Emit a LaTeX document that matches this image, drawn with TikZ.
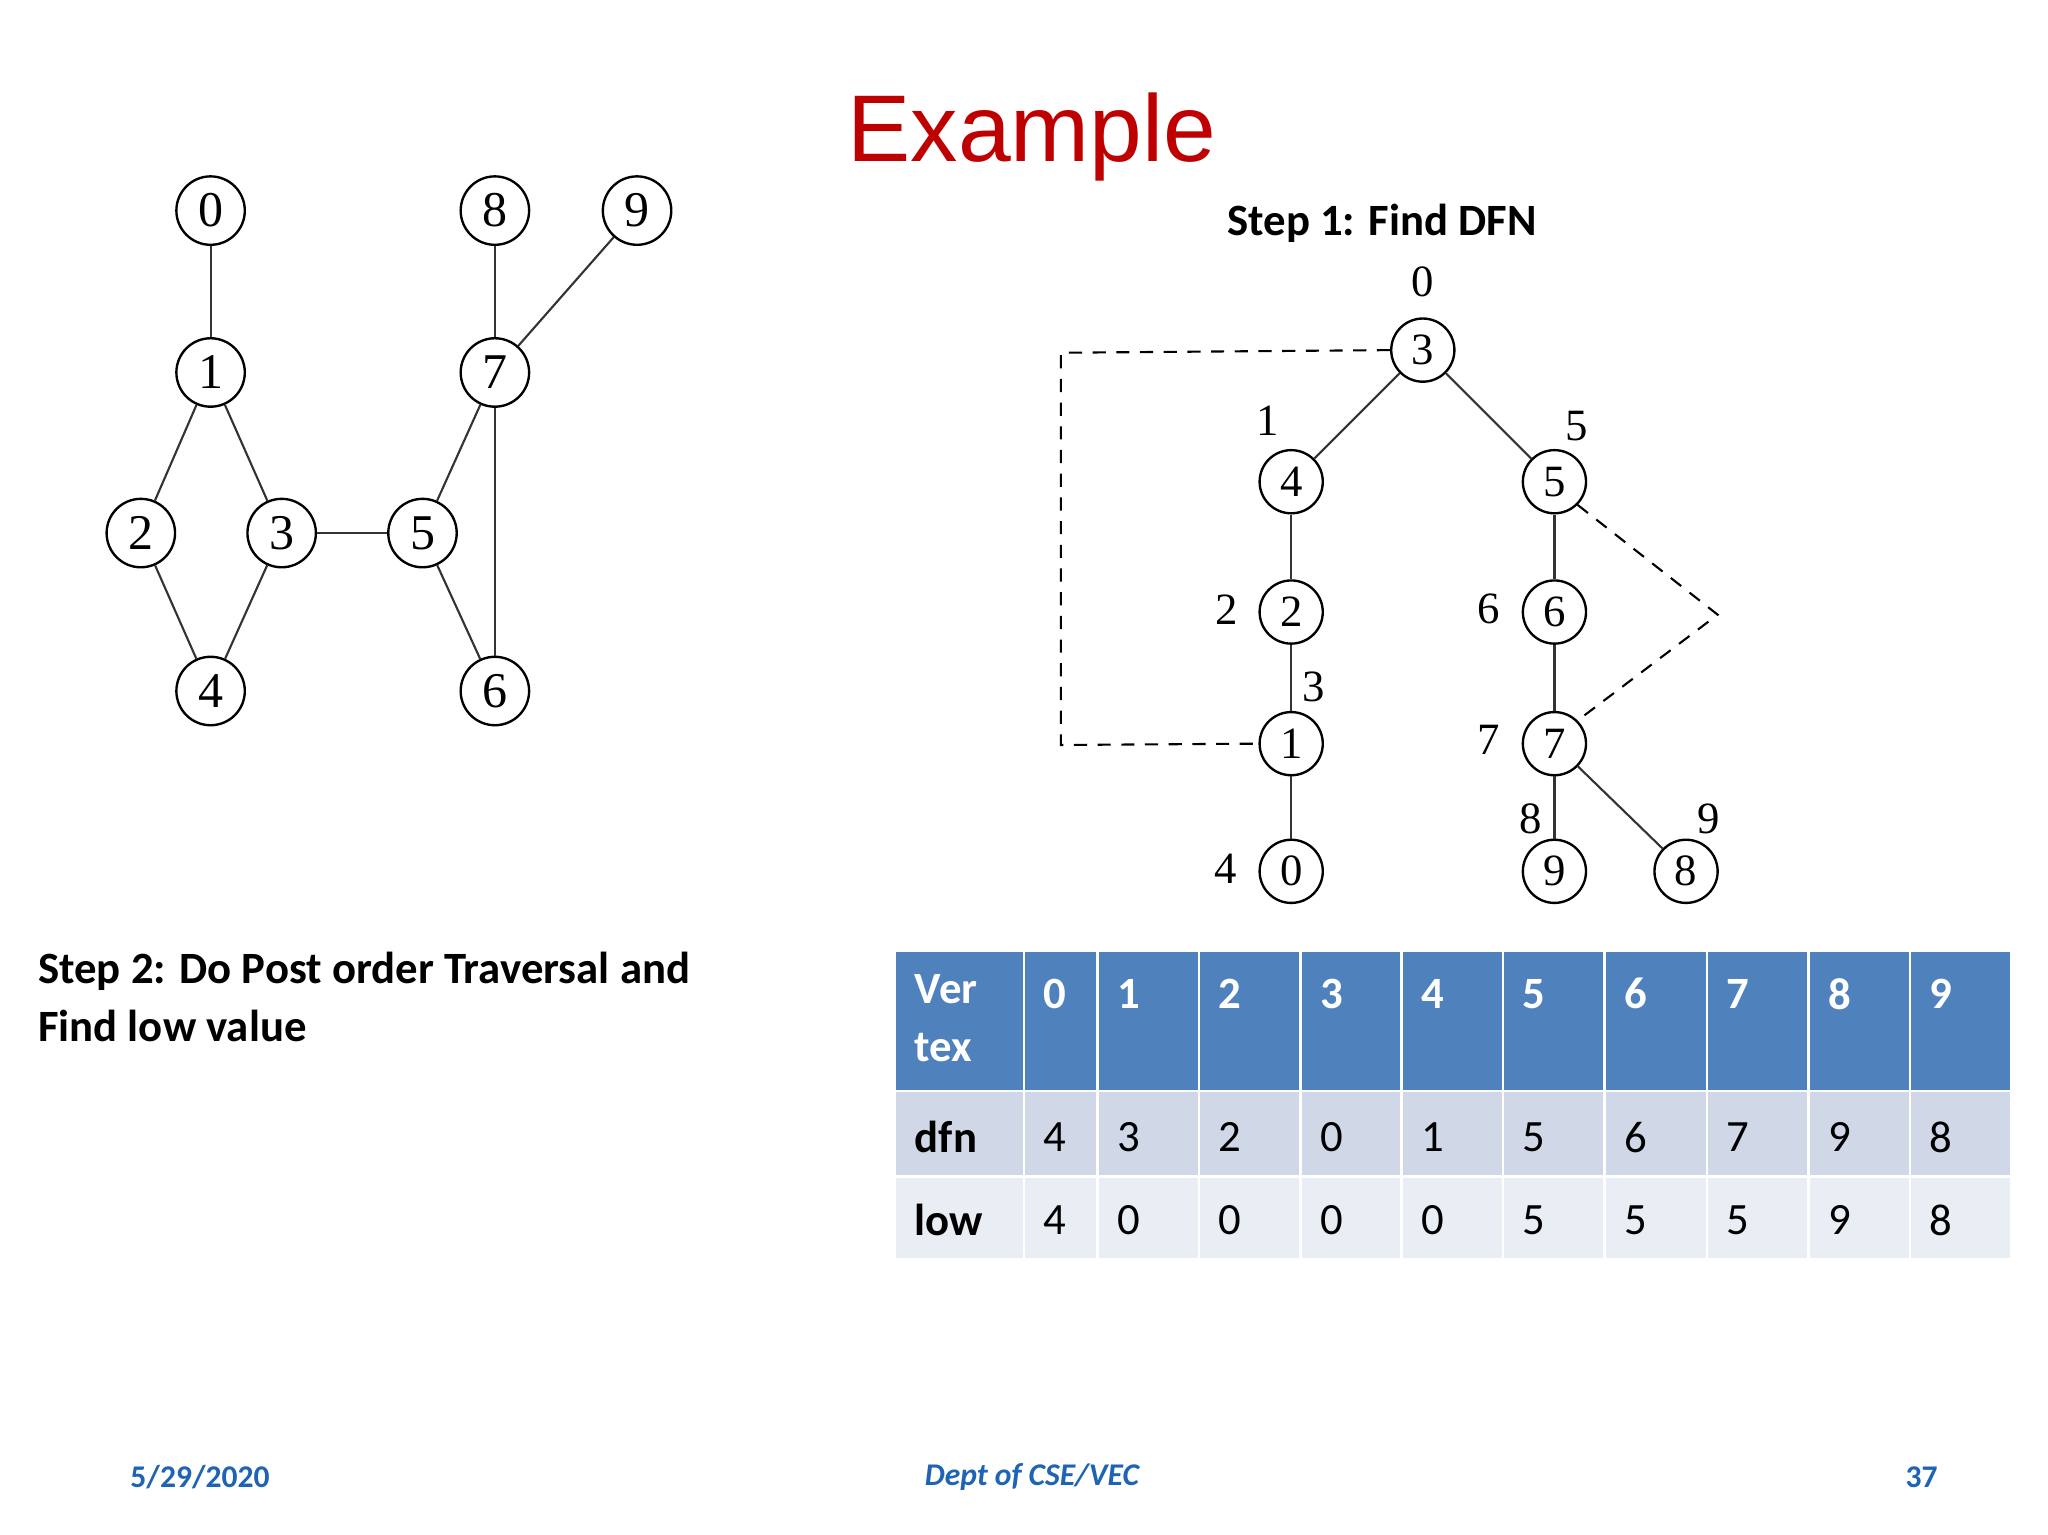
\documentclass[tikz,border=0pt]{standalone}
\usepackage{fontspec}
\setmainfont{Carlito}
\newfontfamily\gfont{Liberation Serif}
\begin{document}
\begin{tikzpicture}[x=0.5pt,y=-0.5pt,
  gn/.style={circle,draw,line width=0.9pt,minimum size=26pt,inner sep=0pt,font=\gfont\fontsize{19}{19}\selectfont},
  tn/.style={circle,draw,line width=0.9pt,minimum size=24pt,inner sep=0pt,font=\gfont\fontsize{17}{17}\selectfont},
  lb/.style={font=\gfont\fontsize{17}{17}\selectfont},
  ed/.style={line width=0.8pt,black!80},
  dsh/.style={line width=0.8pt,dashed,dash pattern=on 5pt off 4pt}]
\useasboundingbox[fill=white] (0,0) rectangle (1556,1166);
\definecolor{hd}{RGB}{79,129,189}
\definecolor{ra}{RGB}{208,216,232}
\definecolor{rb}{RGB}{233,237,244}
\definecolor{ft}{RGB}{31,100,180}
\node[text=red!75!black,font=\fontsize{36}{36}\selectfont\sffamily] (title) at (784,104) {\fontspec{Liberation Sans}Example};
\node[font=\bfseries\fontsize{17}{17}\selectfont] (s1) at (1050,170) {Step 1: Find DFN};
\node[font=\bfseries\fontsize{17}{22}\selectfont,align=left,anchor=north west] (s2) at (22,716) {Step 2: Do Post order Traversal and\\Find low value};
% left graph
\foreach \n/\x/\y in {0/160/160,1/160/283,2/107/405,3/214/405,4/160/525,5/321/405,6/376/525,7/376/283,8/376/160,9/484/160}
  \node[gn] (g\n) at (\x,\y) {\n};
\foreach \a/\b in {0/1,1/2,1/3,2/4,3/4,3/5,5/7,5/6,7/6,7/8,7/9}
  \draw[ed] (g\a) -- (g\b);
% tree
\foreach \n/\x/\y in {3/1081/266,4/981/366,5/1181/366,2/981/465,6/1181/465,1/981/565,7/1181/565,0/981/662,9/1181/662,8/1281/662}
  \node[tn] (t\n) at (\x,\y) {\n};
\foreach \a/\b in {3/4,3/5,4/2,2/1,1/0,5/6,6/7,7/9,7/8}
  \draw[ed] (t\a) -- (t\b);
\foreach \t/\x/\y [count=\i] in {0/1081/214,1/963/320,5/1198/324,2/932/463,3/998/522,6/1131/463,7/1131/562,8/1163/622,9/1298/622,4/931/660}
  \node[lb] (l\i) at (\x,\y) {\t};
\coordinate (c1) at (806,268);
\coordinate (c2) at (806,566);
\coordinate (c3) at (1305,467);
\draw[dsh] (t3.west) -- (c1) -- (c2) -- (t1.west);
\draw[dsh] (t5.south east) -- (c3) -- (t7.north east);
% table
\def\cols{{680,778,834,911,988,1065,1142,1219,1297,1374,1451,1528}}
\foreach \i in {0,...,10}{
  \pgfmathsetmacro\xa{\cols[\i]}
  \pgfmathsetmacro\xb{\cols[\i+1]}
  \fill[hd] (\xa+1,723) rectangle (\xb-1,828);
  \fill[ra] (\xa+1,830) rectangle (\xb-1,893);
  \fill[rb] (\xa+1,895) rectangle (\xb-1,956);
}
\node[font=\bfseries\fontsize{17}{22}\selectfont,text=white,align=left,anchor=north west] (vt) at (688,733) {Ver\\tex};
\foreach \v [count=\i] in {0,...,9}{
  \pgfmathsetmacro\xa{\cols[\i]}
  \node[font=\bfseries\fontsize{17}{17}\selectfont,text=white,anchor=west] (h\i) at (\xa+8,755) {\v};
}
\node[font=\bfseries\fontsize{17}{17}\selectfont,anchor=west] (dl) at (688,864) {dfn};
\node[font=\bfseries\fontsize{17}{17}\selectfont,anchor=west] (ll) at (688,927) {low};
\foreach \d/\l [count=\i] in {4/4,3/0,2/0,0/0,1/0,5/5,6/5,7/5,9/9,8/8}{
  \pgfmathsetmacro\xa{\cols[\i]}
  \node[font=\fontsize{17}{17}\selectfont,anchor=west] (d\i) at (\xa+8,864) {\d};
  \node[font=\fontsize{17}{17}\selectfont,anchor=west] (w\i) at (\xa+8,927) {\l};
}
% footer
\node[text=ft,font=\bfseries\fontsize{12}{12}\selectfont] (f1) at (152,1122) {5/29/2020};
\node[text=ft,font=\bfseries\itshape\fontsize{12}{12}\selectfont] (f2) at (784,1122) {Dept of CSE/VEC};
\node[text=ft,font=\bfseries\fontsize{12}{12}\selectfont] (f3) at (1460,1122) {37};
\end{tikzpicture}
\end{document}
